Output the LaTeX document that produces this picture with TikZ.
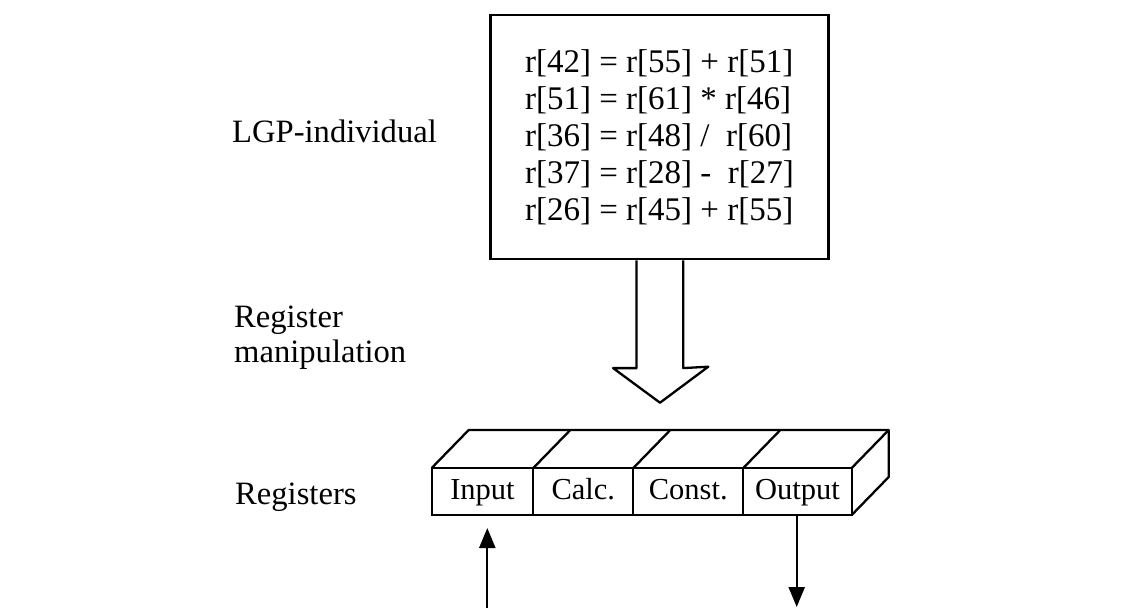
\documentclass[tikz,border=0pt]{standalone}
\usepackage{fontspec}
\setmainfont{Liberation Serif}
\usetikzlibrary{arrows.meta,calc}
\tikzset{
  lbl/.style={font=\fontsize{32.6}{35}\selectfont, inner sep=0pt, align=left},
  prog/.style={draw, line width=2.8pt, minimum width=338pt, minimum height=244pt,
    align=left, font=\fontsize{33}{37}\selectfont},
  cell/.style={draw, line width=2.3pt, minimum height=47pt, inner sep=0pt, outer sep=0pt,
    text height=22pt, text depth=7pt, font=\fontsize{30.5}{34}\selectfont},
  edge/.style={line width=2.3pt, line join=round},
  flow/.style={line width=2.3pt, -{Triangle[length=20pt,width=16pt]}},
}
\begin{document}
\begin{tikzpicture}[x=1pt,y=-1pt]
\useasboundingbox (0,0) rectangle (1145,608);

% program box
\node[prog] (ind) at (659.5,137) {%
r[42] = r[55] + r[51]\\
r[51] = r[61] * r[46]\\
r[36] = r[48] /\ \ r[60]\\
r[37] = r[28] -\ \ r[27]\\
r[26] = r[45] + r[55]};

% side labels
\node[lbl, anchor=base west] (l1) at (232,142) {LGP-individual};
\node[lbl, anchor=base west] (l2) at (234,362) {Register\\manipulation};
\node[lbl, anchor=base west] (l3) at (235,504) {Registers};

% hollow block arrow
\coordinate (tip) at (660,402.7);
\draw[edge] ($(ind.south)+(-23,0)$) -- ++(0,107.7) -- ++(-23.4,0) -- (tip)
  -- ($(tip)+(48.3,-36)$) -- ($(ind.south)+(23.8,107.7)$) -- ($(ind.south)+(23.8,0)$);

% register cells
\node[cell, minimum width=101.6pt] (cin) at (482.5,491.5) {Input};
\node[cell, minimum width=100pt, anchor=west] (ccalc) at (cin.east) {Calc.};
\node[cell, minimum width=110pt, anchor=west] (cconst) at (ccalc.east) {Const.};
\node[cell, minimum width=108.4pt, anchor=west] (cout) at (cconst.east) {Output};

% top and side faces
\def\dep{(37,-38)}
\draw[edge] (cin.north west) -- ++\dep -- ($(cout.north east)+(37,-38)$) -- ++(0,47) -- (cout.south east);
\draw[edge] (cout.north east) -- ++\dep;
\draw[edge] (ccalc.north west) -- ++\dep;
\draw[edge] (cconst.north west) -- ++\dep;
\draw[edge] (cout.north west) -- ++\dep;

% data in / data out
\coordinate (inbot) at (487.3,608);
\coordinate (outbot) at (796.7,607);
\draw[flow] (inbot) -- ([yshift=-13pt]cin.south -| inbot);
\draw[flow] (cout.south -| outbot) -- (outbot);
\end{tikzpicture}
\end{document}
